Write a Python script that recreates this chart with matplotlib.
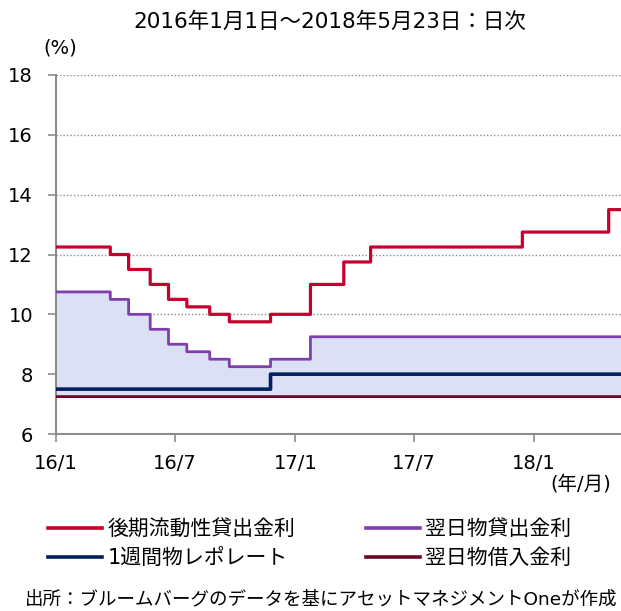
import matplotlib
matplotlib.use("Agg")
import matplotlib.pyplot as plt
import numpy as np
import pandas as pd

plt.rcParams['font.family'] = ['DejaVu Sans', 'Noto Sans CJK JP']

end_date = "2018-05-23"

llw_dates = ["2016-01-01", "2016-03-24", "2016-04-21", "2016-05-24", "2016-06-21",
             "2016-07-19", "2016-08-23", "2016-09-22", "2016-11-24", "2017-01-24",
             "2017-03-16", "2017-04-26", "2017-12-14", "2018-04-25"]
llw_values = [12.25, 12.0, 11.5, 11.0, 10.5, 10.25, 10.0, 9.75, 10.0, 11.0,
              11.75, 12.25, 12.75, 13.5]

onl_dates = ["2016-01-01", "2016-03-24", "2016-04-21", "2016-05-24", "2016-06-21",
             "2016-07-19", "2016-08-23", "2016-09-22", "2016-11-24", "2017-01-24"]
onl_values = [10.75, 10.5, 10.0, 9.5, 9.0, 8.75, 8.5, 8.25, 8.5, 9.25]

repo_dates = ["2016-01-01", "2016-11-24"]
repo_values = [7.5, 8.0]

onb_dates = ["2016-01-01"]
onb_values = [7.25]

labels = ["後期流動性貸出金利", "翌日物貸出金利", "1週間物レポレート", "翌日物借入金利"]
colors = ["#C8002E", "#7E3FAE", "#002060", "#6A0A22"]
xtick_dates = ["2016-01-01", "2016-07-01", "2017-01-01", "2017-07-01", "2018-01-01"]
xtick_labels = ["16/1", "16/7", "17/1", "17/7", "18/1"]


def daily(dates, values):
    idx = pd.date_range("2016-01-01", end_date, freq="D")
    s = pd.Series(np.nan, index=idx)
    for d, v in zip(dates, values):
        s[pd.Timestamp(d)] = v
    return s.ffill()


llw = daily(llw_dates, llw_values)
onl = daily(onl_dates, onl_values)
repo = daily(repo_dates, repo_values)
onb = daily(onb_dates, onb_values)

fig = plt.figure(figsize=(6.21, 6.11), dpi=100)
ax = fig.add_axes([56 / 621, 1 - 434 / 611, (627 - 56) / 621, (434 - 75) / 611])

ax.fill_between(onl.index, onb.values, onl.values, step="post", color="#DCE0F5", lw=0, zorder=1)
ax.step(onb.index, onb.values, where="post", color=colors[3], lw=2.0, zorder=3)
ax.step(repo.index, repo.values, where="post", color=colors[2], lw=2.6, zorder=3)
ax.step(onl.index, onl.values, where="post", color=colors[1], lw=2.0, zorder=3)
ax.step(llw.index, llw.values, where="post", color=colors[0], lw=2.3, zorder=4)

ax.set_xlim(pd.Timestamp("2016-01-01"), pd.Timestamp(end_date))
ax.set_ylim(6, 18)
ax.set_yticks(np.arange(6, 19, 2))
ax.set_xticks([pd.Timestamp(d) for d in xtick_dates])
ax.set_xticklabels(xtick_labels)
ax.yaxis.grid(True, linestyle=(0, (1, 1.5)), color="#8C8C8C", lw=1.0)
ax.set_axisbelow(True)
for s in ["top", "right"]:
    ax.spines[s].set_visible(False)
for s in ["left", "bottom"]:
    ax.spines[s].set_color("#8C8C8C")
    ax.spines[s].set_linewidth(1.5)
ax.tick_params(axis="both", direction="out", length=6, width=1.2, color="#8C8C8C",
               labelsize=14, labelcolor="black")
ax.tick_params(axis="x", pad=8.5)
ax.tick_params(axis="y", pad=10.5)

fig.text(330 / 621, 1 - 22 / 611, "2016年1月1日～2018年5月23日：日次", ha="center", va="center", fontsize=15.5)
fig.text(60 / 621, 1 - 48 / 611, "(%)", ha="center", va="center", fontsize=14)
fig.text(581 / 621, 1 - 484 / 611, "(年/月)", ha="center", va="center", fontsize=14)

handles = [plt.Line2D([], [], color=c, lw=2.6) for c in colors]
order = [0, 2, 1, 3]
fig.legend([handles[i] for i in order], [labels[i] for i in order], ncol=2,
           loc="upper left", bbox_to_anchor=(48 / 621, 1 - 519 / 611), frameon=False,
           fontsize=15, handlelength=2.6, handletextpad=0.25, columnspacing=3.4,
           labelspacing=0.45, borderaxespad=0, borderpad=0)

fig.text(25 / 621, 1 - 599 / 611, "出所：ブルームバーグのデータを基にアセットマネジメントOneが作成",
         ha="left", va="center", fontsize=13.3)

fig.savefig("out.png", dpi=100)
